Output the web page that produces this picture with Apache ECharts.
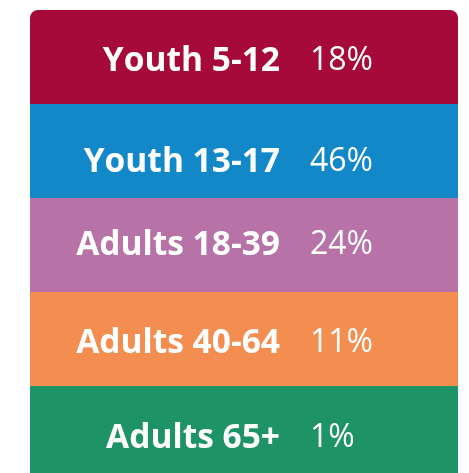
<!DOCTYPE html>
<html>
<head>
<meta charset="utf-8">
<script src="https://cdn.jsdelivr.net/npm/echarts@6/dist/echarts.min.js"></script>
<style>html,body{margin:0;padding:0;background:#fff;}#c{width:469px;height:473px;}</style>
</head>
<body>
<div id="c"></div>
<script>
var categories = ['Youth 5-12', 'Youth 13-17', 'Adults 18-39', 'Adults 40-64', 'Adults 65+'];
var shares = [18, 46, 24, 11, 1];
var colors = ['#A50A3A', '#1388C8', '#B772A8', '#F38E50', '#1D9366'];
var textShiftY = [4, 11, 0, 4, 5];

var chart = echarts.init(document.getElementById('c'), null, {renderer: 'canvas'});
var data = categories.map(function (c, i) { return [0, i, shares[i]]; });
var n = categories.length;
chart.setOption({
  animation: false,
  grid: {left: 30, right: 11, top: 10, bottom: -7, outerBoundsMode: 'none', containLabel: false},
  xAxis: {type: 'category', data: ['share'], show: false},
  yAxis: {type: 'category', data: categories, inverse: true, show: false},
  series: [{
    type: 'custom',
    data: data,
    clip: false,
    renderItem: function (params, api) {
      var idx = api.value(1);
      var center = api.coord([api.value(0), idx]);
      var size = api.size([1, 1]);
      var x = center[0] - size[0] / 2, y = center[1] - size[1] / 2;
      var r = idx === 0 ? [8, 8, 0, 0] : (idx === n - 1 ? [0, 0, 8, 8] : 0);
      var ty = center[1] + textShiftY[idx];
      return {
        type: 'group',
        children: [{
          type: 'rect',
          shape: {x: x, y: y, width: size[0], height: size[1], r: r},
          style: {fill: colors[idx]}
        }, {
          type: 'text',
          x: center[0] + 36, y: ty,
          style: {
            text: categories[idx],
            align: 'right', verticalAlign: 'middle',
            fontFamily: 'Open Sans', fontWeight: 'bold', fontSize: 33.5, fill: '#fff'
          }
        }, {
          type: 'text',
          x: center[0] + 66, y: ty,
          style: {
            text: api.value(2) + '%',
            align: 'left', verticalAlign: 'middle',
            fontFamily: 'Open Sans', fontWeight: 'normal', fontSize: 32, fill: '#fff'
          }
        }]
      };
    }
  }]
});
</script>
</body>
</html>
